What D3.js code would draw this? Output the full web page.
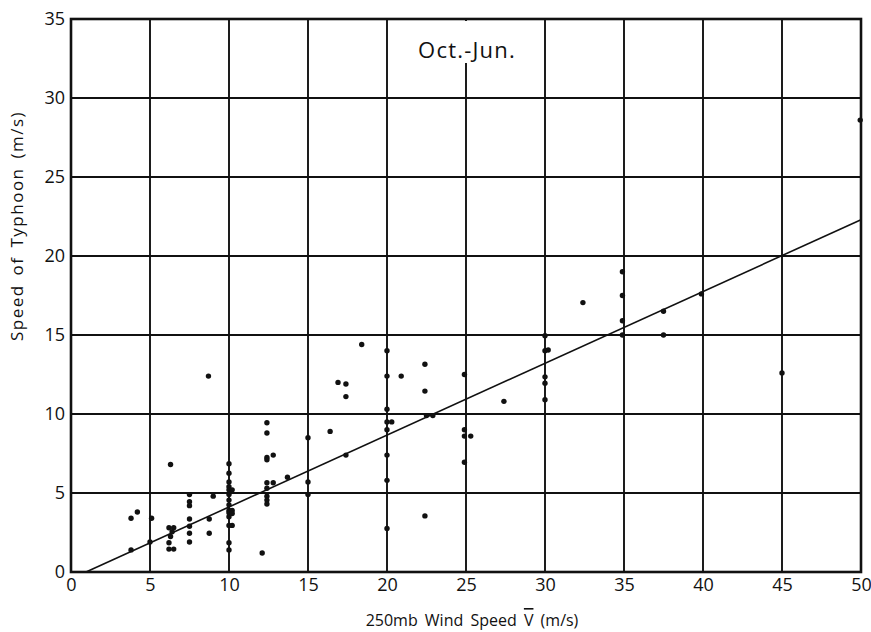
<!DOCTYPE html>
<html><head><meta charset="utf-8">
<script src="https://cdn.jsdelivr.net/npm/d3@7"></script>
<style>body{margin:0;background:#fff}svg{display:block}text{font-family:"Open Sans","Noto Sans",sans-serif;fill:#111}</style>
</head><body>
<svg id="c" width="871" height="632"></svg>
<script>
const windSpeed = [3.8,4.2,3.8,5.1,5.0,6.3,6.2,6.5,6.4,6.3,6.2,6.2,6.5,
 7.5,7.5,7.5,7.5,7.5,7.5,7.5,8.7,9.0,8.75,8.75,
 10,10,10,10,10,10,10,10,10,10,10,10,10,10,10.2,10.2,10.2,10.2,
 12.1,12.4,12.4,12.4,12.4,12.4,12.4,12.4,12.4,12.4,12.8,12.8,13.7,
 15,15,15,16.4,16.9,17.4,17.4,17.4,18.4,
 20,20,20,20,20,20,20,20,20.3,20.9,22.4,22.4,22.4,22.5,22.9,
 24.9,24.9,24.9,24.9,25.3,27.4,30,30,30,30,30,30.2,32.4,
 34.9,34.9,34.9,34.9,37.5,37.5,39.9,45,49.95];
const typhoonSpeed = [3.4,3.8,1.4,3.4,1.9,6.8,2.8,2.8,2.55,2.25,1.85,1.45,1.45,
 4.9,4.45,4.2,3.35,2.9,2.45,1.9,12.4,4.8,3.35,2.45,
 6.85,6.25,5.7,5.4,5.2,4.9,4.55,4.25,3.9,3.75,3.5,2.95,1.85,1.4,5.2,3.9,3.7,2.95,
 1.2,9.45,8.8,7.25,7.1,5.65,5.3,4.8,4.55,4.3,7.4,5.65,6.0,
 8.5,5.7,4.9,8.9,12.0,11.9,11.1,7.4,14.4,
 14.0,12.4,10.3,9.5,9.0,7.4,5.8,2.75,9.5,12.4,13.15,11.45,3.55,9.9,9.9,
 12.5,9.0,8.6,6.95,8.6,10.8,14.95,14.0,12.35,11.95,10.9,14.05,17.05,
 19.0,17.5,15.9,15.0,16.5,15.0,17.6,12.6,28.6];
const fitX = [0.95, 50];
const fitY = [0, 22.3];
const xTicks = [0,5,10,15,20,25,30,35,40,45,50];
const yTicks = [0,5,10,15,20,25,30,35];
const titleText = "Oct.-Jun.";

const svg = d3.select("#c");
const L=71, T=19, W=790, H=553;
const x = d3.scaleLinear().domain([0,50]).range([L, L+W]);
const y = d3.scaleLinear().domain([0,35]).range([T+H, T]);

// grid
svg.append("g").selectAll("line").data(xTicks).join("line")
  .attr("x1",d=>x(d)).attr("x2",d=>x(d)).attr("y1",T).attr("y2",T+H)
  .attr("stroke","#111").attr("stroke-width",1.9);
svg.append("g").selectAll("line").data(yTicks).join("line")
  .attr("x1",L).attr("x2",L+W).attr("y1",d=>y(d)).attr("y2",d=>y(d))
  .attr("stroke","#111").attr("stroke-width",1.9);

// axes tick labels
const xa = d3.axisBottom(x).tickValues(xTicks).tickSize(0).tickPadding(6);
const gx = svg.append("g").attr("transform",`translate(0,${T+H})`).call(xa);
gx.select(".domain").remove();
gx.selectAll("text").attr("font-size",18).style("font-family","'Open Sans','Noto Sans',sans-serif").attr("fill","#111");
const ya = d3.axisLeft(y).tickValues(yTicks).tickSize(0).tickPadding(6);
const gy = svg.append("g").attr("transform",`translate(${L},0)`).call(ya);
gy.select(".domain").remove();
gy.selectAll("text").attr("font-size",18).style("font-family","'Open Sans','Noto Sans',sans-serif").attr("fill","#111");

// fit line
svg.append("line").attr("x1",x(fitX[0])).attr("y1",y(fitY[0])).attr("x2",x(fitX[1])).attr("y2",y(fitY[1]))
  .attr("stroke","#111").attr("stroke-width",1.6);

// points
svg.append("g").selectAll("circle").data(windSpeed.map((v,i)=>[v,typhoonSpeed[i]])).join("circle")
  .attr("cx",d=>x(d[0])).attr("cy",d=>y(d[1])).attr("r",2.7).attr("fill","#111");

// title with white background hiding the grid behind it
const tg = svg.append("g");
tg.append("rect").attr("x",408).attr("y",T+2).attr("width",118).attr("height",42)
  .style("fill","#ffffff").style("stroke","none");
tg.append("text").attr("x",467).attr("y",58).attr("text-anchor","middle")
  .attr("font-size",22).style("letter-spacing","1.2px").text(titleText);

// frame
svg.append("rect").attr("x",L).attr("y",T).attr("width",W).attr("height",H)
  .attr("fill","none").attr("stroke","#111").attr("stroke-width",2.6);

// axis titles
const xt = svg.append("text").attr("x",472).attr("y",626).attr("text-anchor","middle")
  .attr("font-size",16).style("word-spacing","3px");
xt.append("tspan").text("250mb Wind Speed ");
xt.append("tspan").style("text-decoration","overline").text("V");
xt.append("tspan").text(" (m/s)");
svg.append("text").attr("transform","translate(23,226) rotate(-90)").attr("text-anchor","middle")
  .attr("font-size",17).style("letter-spacing","1.5px").style("word-spacing","3px").text("Speed of Typhoon (m/s)");
</script>
</body></html>
